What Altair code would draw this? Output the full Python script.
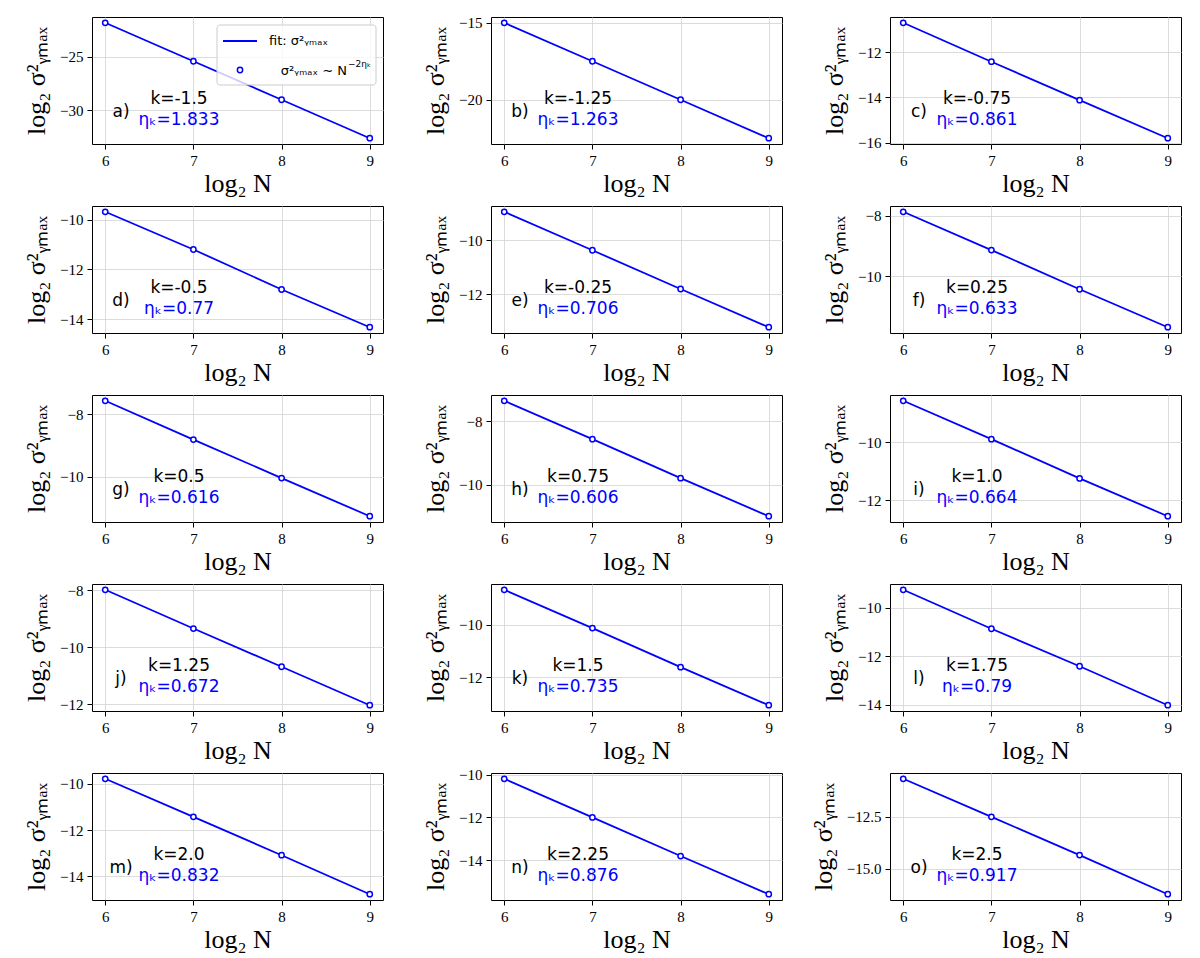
import altair as alt
import pandas as pd

# ---------------- data ----------------
LOG2N = [6, 7, 8, 9]
LETTERS = ["a)", "b)", "c)", "d)", "e)", "f)", "g)", "h)", "i)", "j)", "k)", "l)", "m)", "n)", "o)"]
K_VALUES = ["-1.5", "-1.25", "-0.75", "-0.5", "-0.25", "0.25", "0.5", "0.75", "1.0",
            "1.25", "1.5", "1.75", "2.0", "2.25", "2.5"]
ETA = ["1.833", "1.263", "0.861", "0.77", "0.706", "0.633", "0.616", "0.606", "0.664",
       "0.672", "0.735", "0.79", "0.832", "0.876", "0.917"]

SERIES = [
    [-21.8, -25.4, -29.0, -32.6],
    [-15.0, -17.5, -20.0, -22.5],
    [-10.68, -12.41, -14.12, -15.81],
    [-9.68, -11.2, -12.81, -14.33],
    [-8.94, -10.37, -11.81, -13.23],
    [-7.87, -9.13, -10.42, -11.67],
    [-7.57, -8.81, -10.04, -11.26],
    [-7.35, -8.56, -9.79, -10.99],
    [-8.56, -9.89, -11.25, -12.56],
    [-7.99, -9.35, -10.69, -12.04],
    [-8.65, -10.12, -11.62, -13.08],
    [-9.27, -10.87, -12.41, -14.01],
    [-9.78, -11.43, -13.09, -14.78],
    [-10.19, -12.0, -13.81, -15.6],
    [-10.67, -12.5, -14.34, -16.22],
]

Y_TICKS = [
    [-25, -30], [-15, -20], [-12, -14, -16],
    [-10, -12, -14], [-10, -12], [-8, -10],
    [-8, -10], [-8, -10], [-10, -12],
    [-8, -10, -12], [-10, -12], [-10, -12, -14],
    [-10, -12, -14], [-10, -12, -14], [-12.5, -15.0],
]
Y_FORMAT = ["d"] * 14 + [".1f"]

X_TICKS = [6, 7, 8, 9]
X_TITLE = "log\u2082 N"
Y_TITLE = "log\u2082 \u03c3\u00b2\u1d67\u2098\u2090\u2093"
LEG_FIT = "fit: \u03c3\u00b2\u1d67\u2098\u2090\u2093"
LEG_PTS = "\u03c3\u00b2\u1d67\u2098\u2090\u2093 \u223c N"
LEG_SUP = "\u22122\u03b7\u2096"

BLUE = "#0000ff"
W, H = 291, 127
SANS = "DejaVu Sans"
SERIF = "Liberation Serif"


def one_text(txt, x, y, size=17, color="black", align="center", font=SANS):
    return alt.Chart(pd.DataFrame({"t": [txt]})).mark_text(
        align=align, baseline="middle", fontSize=size, color=color, font=font
    ).encode(text="t:N", x=alt.value(x), y=alt.value(y))


def panel(i):
    vals = SERIES[i]
    df = pd.DataFrame({"N": LOG2N, "y": vals})
    lo, hi = min(vals), max(vals)
    pad = 0.05 * (hi - lo)
    xenc = alt.X("N:Q",
                 scale=alt.Scale(domain=[5.85, 9.15], nice=False, zero=False),
                 axis=alt.Axis(values=X_TICKS, format="d", title=X_TITLE))
    yenc = alt.Y("y:Q",
                 scale=alt.Scale(domain=[lo - pad, hi + pad], nice=False, zero=False),
                 axis=alt.Axis(values=Y_TICKS[i], format=Y_FORMAT[i], title=Y_TITLE))
    line = alt.Chart(df).mark_line(color=BLUE, strokeWidth=1.8).encode(x=xenc, y=yenc)
    pts = alt.Chart(df).mark_point(
        shape="circle", filled=True, fill="white", stroke=BLUE,
        strokeWidth=1.5, size=28, opacity=1
    ).encode(x="N:Q", y="y:Q")
    layers = [line, pts,
              one_text(LETTERS[i], 29, 95),
              one_text("k=" + K_VALUES[i], 87, 82),
              one_text("\u03b7\u2096=" + ETA[i], 87, 103, color=BLUE)]
    if i == 0:
        box = alt.Chart(pd.DataFrame({"t": [0]})).mark_rect(
            fill="white", fillOpacity=0.8, stroke="#cccccc", strokeWidth=1, cornerRadius=3
        ).encode(x=alt.value(125), x2=alt.value(284), y=alt.value(8), y2=alt.value(68))
        lsample = alt.Chart(pd.DataFrame({"t": [0]})).mark_rule(
            color=BLUE, strokeWidth=1.8
        ).encode(x=alt.value(131), x2=alt.value(165), y=alt.value(24))
        psample = alt.Chart(pd.DataFrame({"t": [0]})).mark_point(
            shape="circle", filled=True, fill="white", stroke=BLUE,
            strokeWidth=1.5, size=28, opacity=1
        ).encode(x=alt.value(148), y=alt.value(53))
        layers += [box, lsample, psample,
                   one_text(LEG_FIT, 177, 24, size=13, align="left"),
                   one_text(LEG_PTS, 255, 54, size=13, align="right"),
                   one_text(LEG_SUP, 256, 47, size=9, align="left")]
    return alt.layer(*layers).properties(width=W, height=H)


chart = alt.concat(
    *[panel(i) for i in range(15)],
    columns=3,
    spacing={"row": 62, "column": 108},
    bounds="flush",
).properties(
    padding={"left": 15, "top": 7, "right": 5, "bottom": 5}
).configure_axis(
    labelFont=SERIF, labelFontSize=15, labelColor="black",
    titleFont=SERIF, titleFontSize=26, titleFontWeight="normal", titleColor="black",
    grid=True, gridColor="#d3d3d3", gridWidth=0.8,
    domain=False, tickColor="black", tickSize=5, tickWidth=1,
    labelPadding=4, labelFlush=False, labelOverlap=False,
).configure_axisX(titlePadding=2).configure_axisY(titlePadding=10).configure_view(
    stroke="black", strokeWidth=1
)

chart.save("out.html", embed_options={"renderer": "svg", "actions": False})
